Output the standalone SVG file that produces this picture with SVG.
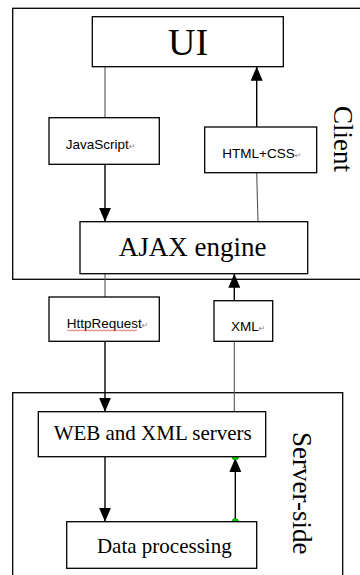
<svg xmlns="http://www.w3.org/2000/svg" width="360" height="575" viewBox="0 0 360 575">
<style>
.box{fill:#fff;stroke:#000;stroke-width:1.3}
.frame{fill:none;stroke:#000;stroke-width:1.3}
.big{font-family:"Liberation Serif","Times New Roman",serif;fill:#000}
.small{font-family:"Liberation Sans",Arial,sans-serif;font-size:13.5px;fill:#000}
.ret{font-family:"DejaVu Sans",sans-serif;font-size:8px;fill:#888}
.ln{stroke:#555;stroke-width:1.1;fill:none}
.ar{stroke:#000;stroke-width:1.4;fill:none;marker-end:url(#ah)}
</style>
<defs>
<marker id="ah" viewBox="0 0 14 12" refX="14" refY="6" markerWidth="14" markerHeight="12" markerUnits="userSpaceOnUse" orient="auto">
<path d="M0,0 L14,6 L0,12 z" fill="#000"/>
</marker>
</defs>
<rect width="360" height="575" fill="#fff"/>
<g id="client">
<rect class="frame" x="12.7" y="8.3" width="352" height="271"/>
<text class="big" font-size="27" transform="translate(334,106) rotate(90)">Client</text>
</g>
<g id="server">
<rect class="frame" x="12.7" y="392.7" width="330" height="190"/>
<text class="big" font-size="27" transform="translate(293,432) rotate(90)">Server-side</text>
</g>
<g id="connectors">
<line class="ln" x1="105" y1="66.7" x2="105" y2="117.7"/>
<line class="ar" x1="105" y1="164.3" x2="105" y2="221.7"/>
<line class="ar" x1="256.7" y1="127" x2="256.7" y2="66.7"/>
<line class="ln" x1="258" y1="221.7" x2="256.7" y2="172.7"/>
<line class="ln" x1="105" y1="273.7" x2="105" y2="297"/>
<line class="ar" x1="105" y1="341.3" x2="105" y2="411.7"/>
<line class="ln" x1="234.3" y1="411.7" x2="234.3" y2="341.3"/>
<line class="ar" x1="234.3" y1="300.7" x2="234.3" y2="273.7"/>
<line class="ar" x1="105" y1="456.7" x2="105" y2="521.7"/>
<line class="ar" x1="235.3" y1="521.7" x2="235.3" y2="458"/>
<circle cx="235.3" cy="456.7" r="3.3" fill="#0c0" stroke="#070" stroke-width="0.5"/>
<circle cx="235.3" cy="521.7" r="3.3" fill="#0c0" stroke="#070" stroke-width="0.5"/>
</g>
<g id="ui">
<rect class="box" x="92.3" y="16.7" width="191" height="50"/>
<text class="big" font-size="38" x="188" y="55" text-anchor="middle">UI</text>
</g>
<g id="javascript">
<rect class="box" x="49" y="117.7" width="110.3" height="46.6"/>
<text class="small" x="65.7" y="149">JavaScript<tspan class="ret">↵</tspan></text>
</g>
<g id="htmlcss">
<rect class="box" x="204.7" y="127" width="112" height="45.7"/>
<text class="small" x="222.3" y="158">HTML+CSS<tspan class="ret">↵</tspan></text>
</g>
<g id="ajax">
<rect class="box" x="80" y="221.7" width="227.7" height="52"/>
<text class="big" font-size="27" x="192.7" y="255.7" text-anchor="middle">AJAX engine</text>
</g>
<g id="httprequest">
<rect class="box" x="49" y="297" width="110.3" height="44.3"/>
<text class="small" x="66.7" y="327.7">HttpRequest<tspan class="ret">↵</tspan></text>
<path d="M67,330.5 q1,-1.2 2,0 t2,0 t2,0 t2,0 t2,0 t2,0 t2,0 t2,0 t2,0 t2,0 t2,0 t2,0 t2,0 t2,0 t2,0 t2,0 t2,0 t2,0 t2,0 t2,0 t2,0 t2,0 t2,0 t2,0 t2,0 t2,0 t2,0 t2,0 t2,0 t2,0 t2,0 t2,0 t2,0 t2,0 t2,0" fill="none" stroke="#e33" stroke-width="0.7"/>
</g>
<g id="xml">
<rect class="box" x="214" y="300.7" width="58.7" height="40.6"/>
<text class="small" x="231" y="330.7">XML<tspan class="ret">↵</tspan></text>
</g>
<g id="web">
<rect class="box" x="38.3" y="411.7" width="227.4" height="45"/>
<text class="big" font-size="21" x="152.7" y="440" text-anchor="middle">WEB and XML servers</text>
</g>
<g id="data">
<rect class="box" x="66.7" y="521.7" width="190" height="46.6"/>
<text class="big" font-size="21" x="164.3" y="553.3" text-anchor="middle">Data processing</text>
</g>
</svg>
